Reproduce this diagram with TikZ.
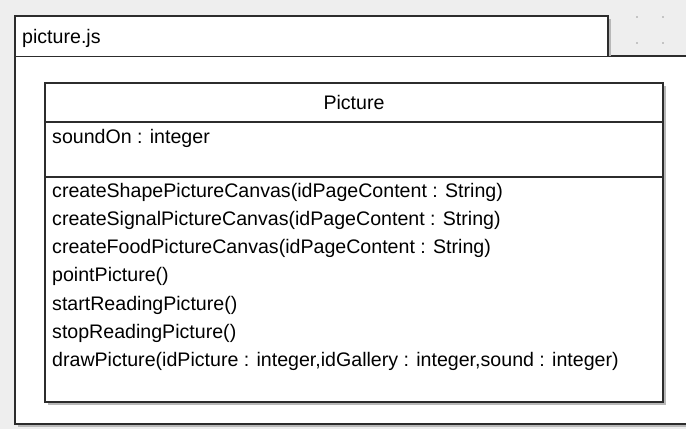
\documentclass[tikz,border=0pt]{standalone}
\usepackage{fontspec}
\setmainfont{Liberation Sans}
\definecolor{canvasbg}{HTML}{EEEEEE}
\definecolor{gridc}{HTML}{C4C4C4}
\definecolor{edgec}{HTML}{2C2C2C}
\definecolor{shadec}{HTML}{B8B8B8}
\tikzset{
  edge/.style={draw=edgec, line width=1.6pt},
  shade/.style={fill=shadec},
  member/.style={anchor=base west, inner sep=0pt, font=\fontsize{19.6}{23}\selectfont},
}
\begin{document}
\begin{tikzpicture}[x=1pt, y=-1pt]
  \useasboundingbox (0,0) rectangle (686,429);
  % canvas and its grid dots
  \fill[canvasbg] (0,0) rectangle (686,429);
  \foreach \gx in {637,663} \foreach \gy in {17,43}
    \fill[gridc] (\gx-1.2,\gy-1.2) rectangle (\gx+1.2,\gy+1.2);

  % package body
  \fill[shade] (17.5,58.5) rectangle (692,426.5);
  \fill[white] (15,56) rectangle (692,424);
  \draw[edge] (692,56) -- (15,56) -- (15,424) -- (692,424);

  % package tab
  \fill[shade] (17.5,18.5) rectangle (610.5,56);
  \fill[white] (15,16) rectangle (608,56);
  \draw[edge] (15,56) -- (15,16) -- (608,16) -- (608,56);
  \node[member] (pkg) at (22,43) {picture.js};

  % class box with three compartments
  \fill[shade] (47.5,85.5) rectangle (665.5,404.5);
  \fill[white] (45,83) rectangle (663,402);
  \draw[edge] (45,83) rectangle (663,402);
  \draw[edge] (45,122) -- (663,122);
  \draw[edge] (45,177) -- (663,177);

  \node[member, anchor=base] (cls) at (354,109.5) {Picture};

  \node[member] (a1) at (52,143) {soundOn : integer};

  \node[member] (m1) at (52,197) {createShapePictureCanvas(idPageContent : String)};
  \node[member] (m2) at (52,225.3) {createSignalPictureCanvas(idPageContent : String)};
  \node[member] (m3) at (52,253.6) {createFoodPictureCanvas(idPageContent : String)};
  \node[member] (m4) at (52,281.9) {pointPicture()};
  \node[member] (m5) at (52,310.2) {startReadingPicture()};
  \node[member] (m6) at (52,338.5) {stopReadingPicture()};
  \node[member] (m7) at (52,366.8) {drawPicture(idPicture : integer,idGallery : integer,sound : integer)};
\end{tikzpicture}
\end{document}
